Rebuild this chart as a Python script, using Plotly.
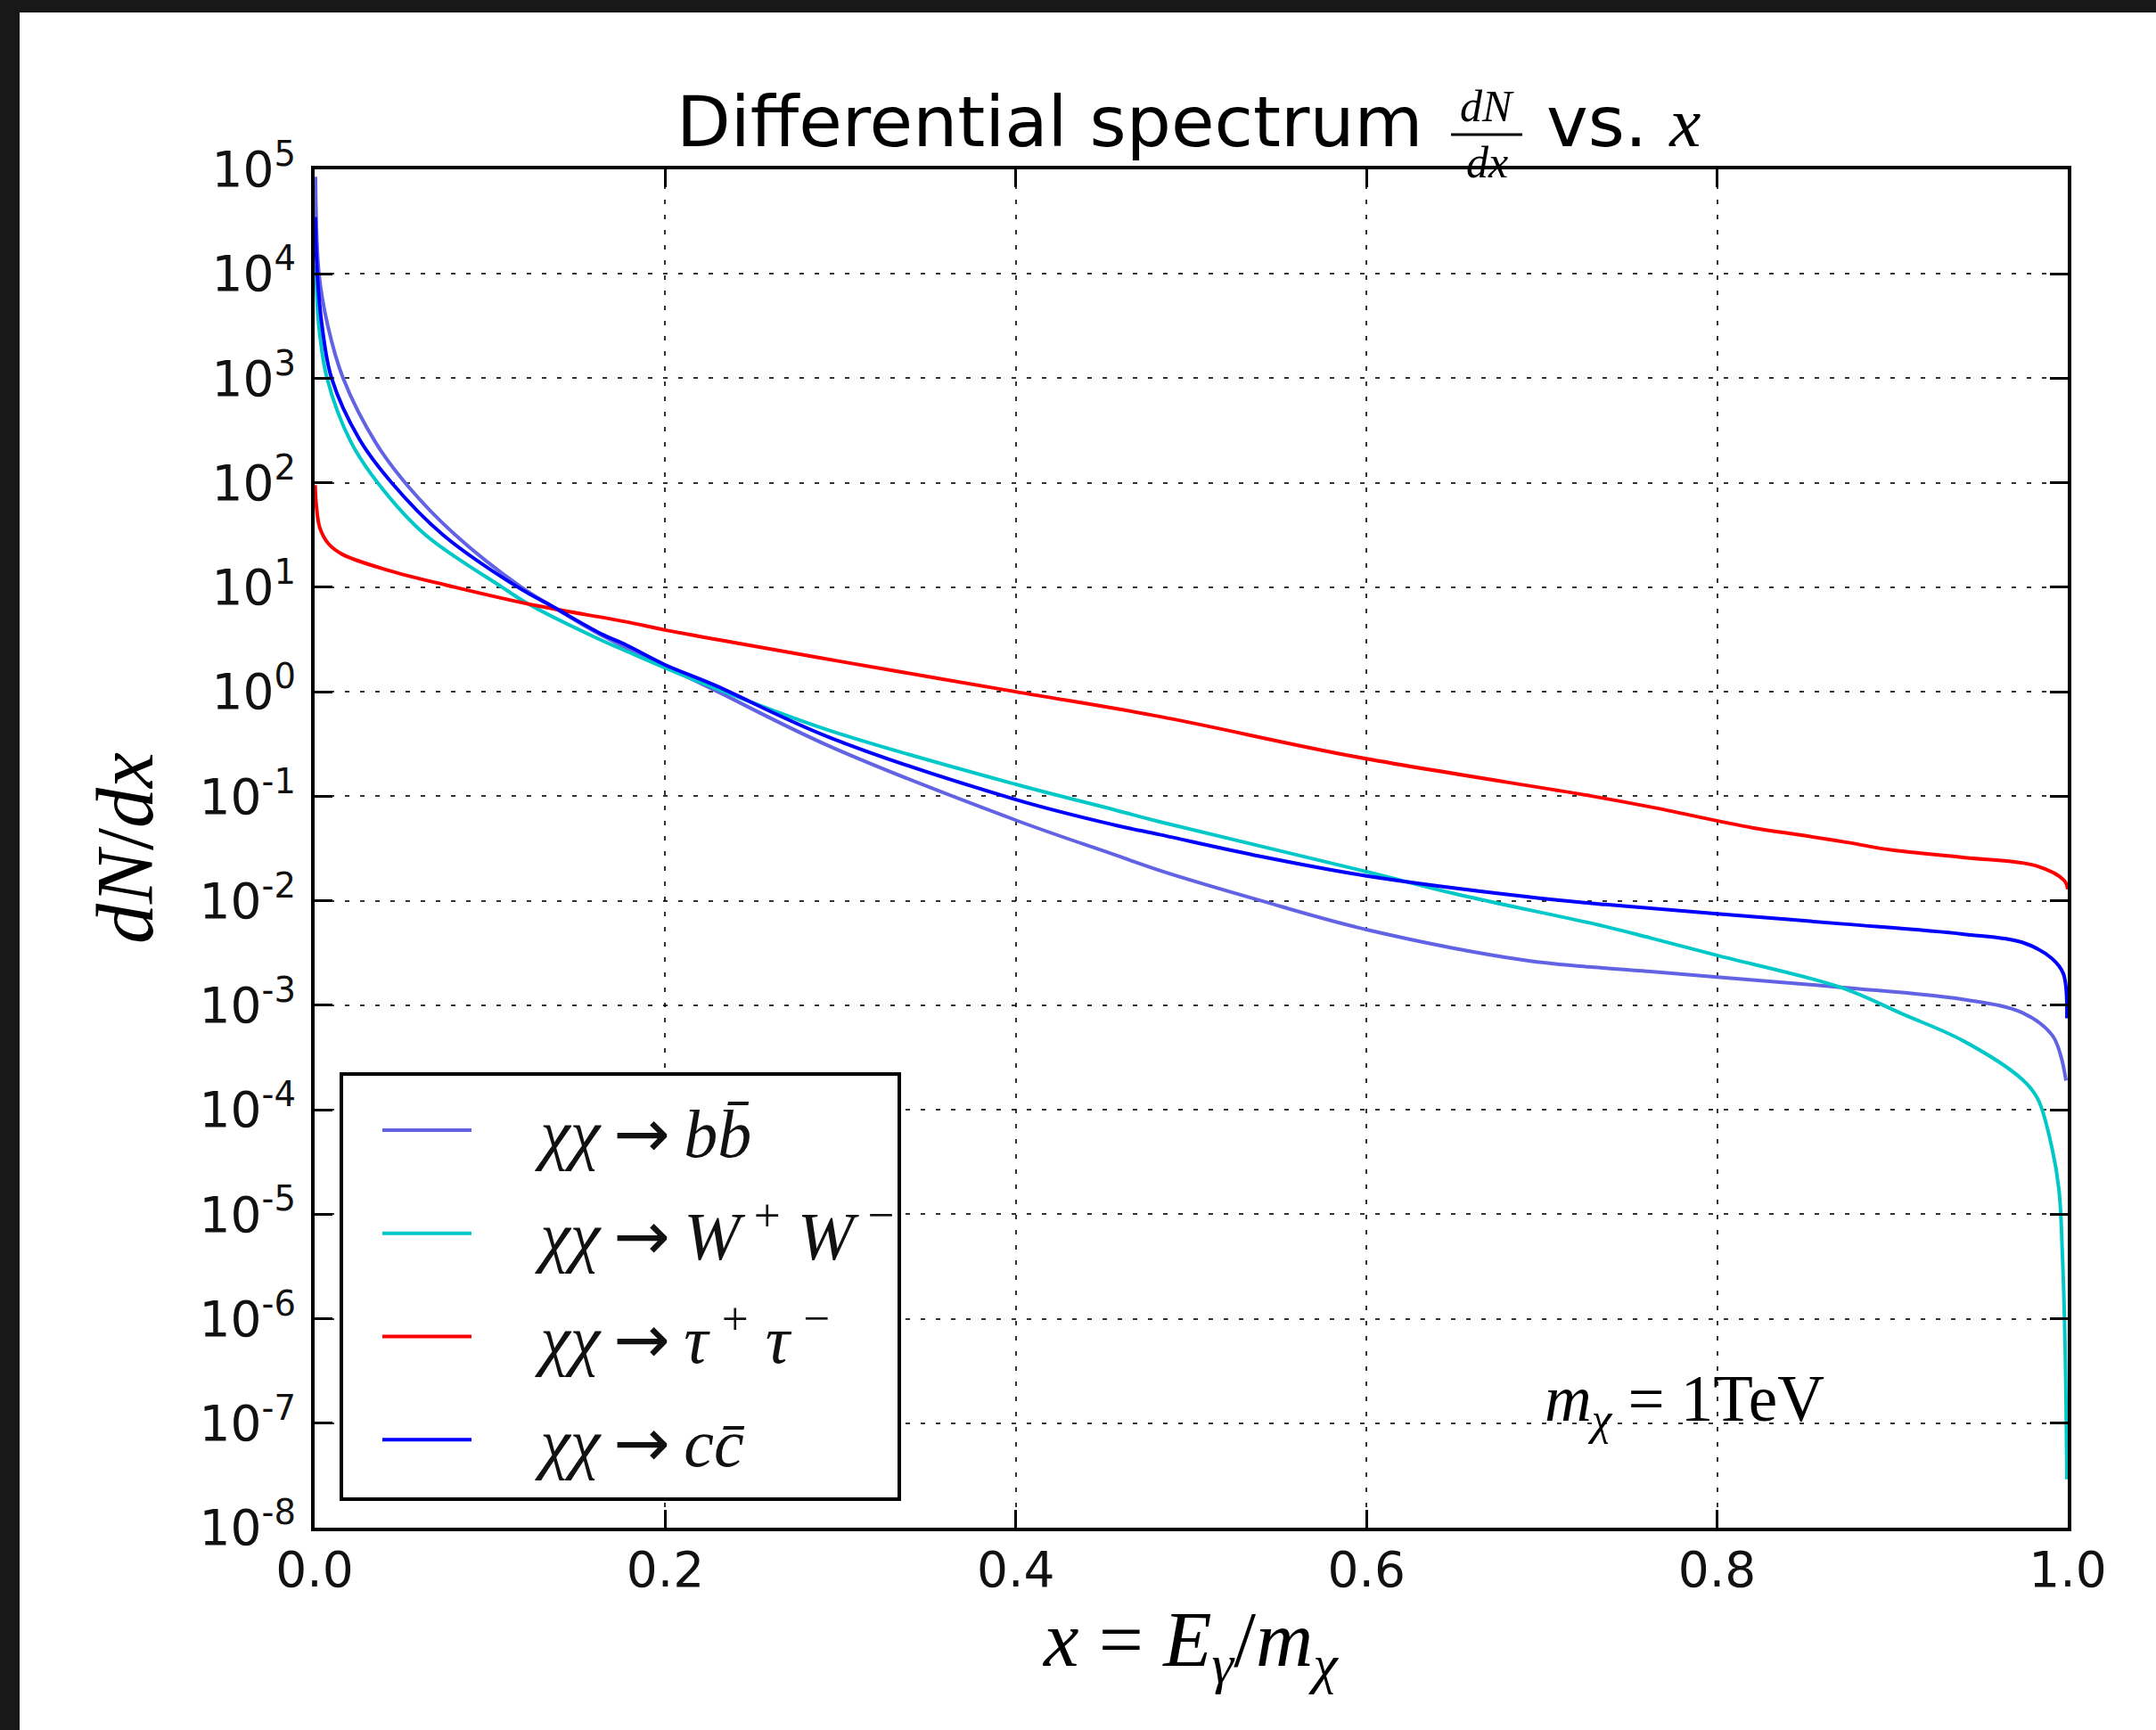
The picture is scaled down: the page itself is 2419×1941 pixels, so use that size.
import plotly.graph_objects as go

# ---------------- data ----------------
x_bb = [0.0005, 0.0025, 0.0075, 0.0163, 0.035, 0.0535, 0.080, 0.118, 0.136, 0.1647,
        0.2, 0.2275, 0.293, 0.4, 0.4565, 0.482, 0.54, 0.6, 0.69, 0.7364, 0.762, 0.8,
        0.872, 0.94, 0.974, 0.991, 0.996, 0.999]
y_bb = [8.5e4, 1.0e4, 3.2e3, 1.0e3, 240, 92, 32, 10, 6.5, 3.4,
        1.75, 1.05, 0.305, 0.059, 0.0275, 0.0195, 0.0100, 0.0053, 0.0027, 0.00226, 0.0021, 0.00186,
        0.00148, 0.00114, 8.5e-4, 5.2e-4, 3.3e-4, 1.9e-4]

x_ww = [0.0006, 0.0024, 0.0071, 0.0205, 0.036, 0.063, 0.107, 0.122, 0.161, 0.1766,
        0.2, 0.2275, 0.293, 0.4, 0.4565, 0.482, 0.6, 0.651, 0.7364, 0.762, 0.8,
        0.8707, 0.906, 0.94, 0.974, 0.983, 0.991, 0.995, 0.997, 0.9985, 0.9995]
y_ww = [1.2e4, 3.2e3, 1.0e3, 250, 100, 32, 10, 6.9, 3.26, 2.5,
        1.69, 1.1, 0.43, 0.13, 0.074, 0.057, 0.019, 0.0116, 0.00566, 0.0044, 0.0030,
        0.00148, 8.2e-4, 4.6e-4, 1.95e-4, 1.26e-4, 4.3e-5, 1.7e-5, 3.9e-6, 5.2e-7, 2.9e-8]

x_tt = [0.0003, 0.001, 0.003, 0.008, 0.016, 0.041, 0.075, 0.126, 0.177, 0.2, 0.228,
        0.3, 0.4, 0.482, 0.593, 0.729, 0.762, 0.82, 0.85, 0.875, 0.9, 0.94, 0.982, 0.998, 1.0]
y_tt = [95, 60, 37, 26, 20.6, 14.7, 10.5, 6.7, 4.7, 3.9, 3.2,
        1.95, 1.0, 0.58, 0.24, 0.1, 0.079, 0.05, 0.042, 0.036, 0.0305, 0.026, 0.0216, 0.0156, 0.0129]

x_cc = [0.0004, 0.0015, 0.0042, 0.0097, 0.0256, 0.044, 0.073, 0.116, 0.136, 0.1647,
        0.1766, 0.2, 0.2275, 0.293, 0.4, 0.4565, 0.482, 0.54, 0.6, 0.69, 0.7364, 0.8,
        0.872, 0.94, 0.974, 0.991, 0.9975, 0.9995]
y_cc = [3.5e4, 1.0e4, 3.2e3, 1.0e3, 260, 100, 32, 10, 6.5, 3.5,
        2.87, 1.81, 1.17, 0.37, 0.093, 0.053, 0.043, 0.0265, 0.0173, 0.011, 0.0092, 0.0075,
        0.006, 0.0048, 0.004, 0.0028, 0.002, 7.5e-4]

ARROW = "\u2009<span style=\"font-family:'DejaVu Sans'\">→</span>\u2009"
TS = "\u2009"
names = ["<i>χχ</i>" + ARROW + "<i>bb̄</i>",
         "<i>χχ</i>" + ARROW + "<i>W</i>" + TS + "<sup>+</sup>\u00a0<i>W</i>" + TS + "<sup>−</sup>",
         "<i>χχ</i>" + ARROW + "<i>τ</i>" + TS + "<sup>+</sup>\u00a0<i>τ</i>" + TS + "<sup>−</sup>",
         "<i>χχ</i>" + ARROW + "<i>cc̄</i>"]
colors = ["#6262e4", "#00c8c8", "#ff0000", "#0000ff"]

x_ticks = [0.0, 0.2, 0.4, 0.6, 0.8, 1.0]
x_ticktext = ["0.0", "0.2", "0.4", "0.6", "0.8", "1.0"]
y_exps = list(range(-8, 6))
y_ticks = [10.0 ** e for e in y_exps]
y_ticktext = ["10<sup>%d</sup>" % e for e in y_exps]

# ---------------- layout geometry ----------------
W, H = 2419, 1941
L, R, T, B = 353, 2320, 190, 1714


def px(xp):
    return (xp - L) / (R - L)


def py(yp):
    return (B - yp) / (B - T)


fig = go.Figure()
series = [(x_bb, y_bb), (x_ww, y_ww), (x_tt, y_tt), (x_cc, y_cc)]
for i, ((xs, ys), nm, c) in enumerate(zip(series, names, colors)):
    fig.add_trace(go.Scatter(x=xs, y=ys, mode="lines", name="\u00a0" * 3 + "\u2009" + nm,
                             legendgroup="g%d" % i,
                             line=dict(color=c, width=4, shape="spline", smoothing=1.0)))

axis_common = dict(
    showline=True, linecolor="black", linewidth=4, mirror="allticks",
    ticks="inside", ticklen=20, tickwidth=3, tickcolor="black",
    showgrid=True, gridcolor="rgba(0,0,0,0.8)", gridwidth=2, griddash="5px,12px",
    zeroline=False,
    tickfont=dict(family="DejaVu Sans", size=55, color="#111111"),
)

fig.update_layout(
    template="none",
    width=W, height=H,
    margin=dict(l=L, r=W - R, t=T, b=H - B, pad=0),
    paper_bgcolor="white", plot_bgcolor="white",
    showlegend=True,
    legend=dict(x=px(424), y=py(1212), xanchor="left", yanchor="top",
                bgcolor="rgba(0,0,0,0)", borderwidth=0,
                font=dict(family="Liberation Serif", size=76, color="#111111"),
                tracegroupgap=14, itemwidth=100),
    xaxis=dict(range=[0, 1], tickvals=x_ticks, ticktext=x_ticktext,
               ticklabelstandoff=-4, **axis_common),
    yaxis=dict(type="log", range=[-8, 5], tickvals=y_ticks, ticktext=y_ticktext,
               ticklabelstandoff=6, **axis_common),
)

ann = []
# title pieces
ann.append(dict(text="Differential spectrum", xref="paper", yref="paper",
                x=px(1598), y=py(137), xanchor="right", yanchor="middle", showarrow=False,
                font=dict(family="DejaVu Sans", size=79, color="black")))
ann.append(dict(text="<i>dN</i>", xref="paper", yref="paper",
                x=px(1668), y=py(119), xanchor="center", yanchor="middle", showarrow=False,
                font=dict(family="Liberation Serif", size=50, color="black")))
ann.append(dict(text="<i>dx</i>", xref="paper", yref="paper",
                x=px(1668), y=py(182), xanchor="center", yanchor="middle", showarrow=False,
                font=dict(family="Liberation Serif", size=50, color="black")))
ann.append(dict(text="vs. <span style=\"font-family:'Liberation Serif'\"><i>x</i></span>",
                xref="paper", yref="paper",
                x=px(1733), y=py(137), xanchor="left", yanchor="middle", showarrow=False,
                font=dict(family="DejaVu Sans", size=79, color="black")))
# axis titles
ann.append(dict(text="<i>dN</i>/<i>dx</i>", xref="paper", yref="paper",
                x=px(140), y=py(952), xanchor="center", yanchor="middle", textangle=-90,
                showarrow=False, font=dict(family="Liberation Serif", size=90, color="black")))
ann.append(dict(text="<i>x</i>\u00a0=\u00a0<i>E</i><sub><i>γ</i></sub>/<i>m</i><sub><i>χ</i></sub>",
                xref="paper", yref="paper",
                x=px(1335), y=py(1845), xanchor="center", yanchor="middle",
                showarrow=False, font=dict(family="Liberation Serif", size=89, color="black")))
# mass annotation
ann.append(dict(text="<i>m</i><sub><i>χ</i></sub>\u00a0=\u00a01TeV", xref="paper", yref="paper",
                x=px(1731), y=py(1574), xanchor="left", yanchor="middle",
                showarrow=False, font=dict(family="Liberation Serif", size=73, color="black")))
fig.update_layout(annotations=ann)

shapes = [
    # legend frame (legend entries themselves are drawn by plotly's legend on top)
    dict(type="rect", xref="paper", yref="paper", x0=px(383), x1=px(1009),
         y0=py(1682), y1=py(1205), fillcolor="white", line=dict(color="black", width=4),
         layer="above"),
    # fraction bar in the title
    dict(type="line", xref="paper", yref="paper", x0=px(1628), x1=px(1708),
         y0=py(151), y1=py(151), line=dict(color="black", width=3)),
    # dark screenshot frame
    dict(type="rect", xref="paper", yref="paper", x0=px(0), x1=px(W), y0=py(0), y1=py(14),
         fillcolor="#181818", line=dict(width=0)),
    dict(type="rect", xref="paper", yref="paper", x0=px(0), x1=px(22), y0=py(0), y1=py(H),
         fillcolor="#181818", line=dict(width=0)),
]
fig.update_layout(shapes=shapes)

fig.write_html("out.html", config={"displayModeBar": False},
               post_script="document.body.style.margin='0px';")
